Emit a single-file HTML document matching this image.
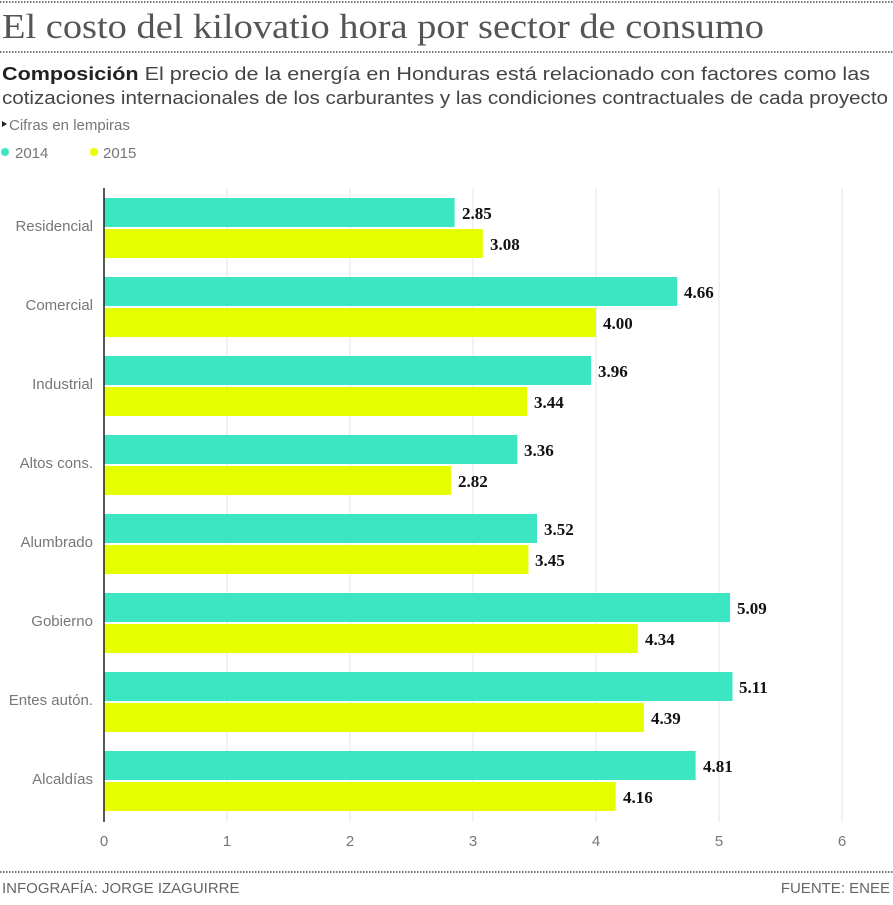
<!DOCTYPE html>
<html><head><meta charset="utf-8"><style>
body{margin:0;background:#fff;width:893px;height:900px;overflow:hidden;font-family:"Liberation Sans",sans-serif}
</style></head><body>
<svg width="893" height="900" xmlns="http://www.w3.org/2000/svg" font-family="Liberation Sans, sans-serif">
<line x1="0" y1="2" x2="893" y2="2" stroke="#777" stroke-width="2" stroke-dasharray="1.5,1.5"/>
<text x="2" y="38" font-family="Liberation Serif, serif" font-size="35" fill="#555" textLength="762" lengthAdjust="spacingAndGlyphs">El costo del kilovatio hora por sector de consumo</text>
<line x1="0" y1="52" x2="893" y2="52" stroke="#777" stroke-width="2" stroke-dasharray="1.5,1.5"/>
<text x="2" y="80" font-size="18" fill="#444" textLength="868" lengthAdjust="spacingAndGlyphs"><tspan font-weight="bold" fill="#222">Composición</tspan> El precio de la energía en Honduras está relacionado con factores como las</text>
<text x="2" y="104" font-size="18" fill="#444" textLength="886" lengthAdjust="spacingAndGlyphs">cotizaciones internacionales de los carburantes y las condiciones contractuales de cada proyecto</text>
<polygon points="2,121 7,124 2,127" fill="#222"/>
<text x="9" y="130" font-size="15" fill="#777">Cifras en lempiras</text>
<circle cx="5" cy="152" r="4" fill="#3de6c3"/><text x="15" y="158" font-size="15" fill="#777">2014</text>
<circle cx="94" cy="152" r="4" fill="#e6ff00"/><text x="103" y="158" font-size="15" fill="#777">2015</text>
<g stroke="#e4e4e4" stroke-width="1">
<line x1="227" y1="188" x2="227" y2="822"/><line x1="350" y1="188" x2="350" y2="822"/><line x1="473" y1="188" x2="473" y2="822"/><line x1="596" y1="188" x2="596" y2="822"/><line x1="719" y1="188" x2="719" y2="822"/><line x1="842" y1="188" x2="842" y2="822"/>
</g>
<g font-size="15" fill="#777" text-anchor="middle">
<text x="104" y="846">0</text><text x="227" y="846">1</text><text x="350" y="846">2</text><text x="473" y="846">3</text><text x="596" y="846">4</text><text x="719" y="846">5</text><text x="842" y="846">6</text>
</g>
<g fill="#3de6c3">
<rect x="104" y="198" width="350.6" height="29"/>
<rect x="104" y="277" width="573.2" height="29"/>
<rect x="104" y="356" width="487.1" height="29"/>
<rect x="104" y="435" width="413.3" height="29"/>
<rect x="104" y="514" width="433" height="29"/>
<rect x="104" y="593" width="626.1" height="29"/>
<rect x="104" y="672" width="628.5" height="29"/>
<rect x="104" y="751" width="591.6" height="29"/>
</g>
<g fill="#e6ff00">
<rect x="104" y="229" width="378.8" height="29"/>
<rect x="104" y="308" width="492" height="29"/>
<rect x="104" y="387" width="423.1" height="29"/>
<rect x="104" y="466" width="346.9" height="29"/>
<rect x="104" y="545" width="424.4" height="29"/>
<rect x="104" y="624" width="533.8" height="29"/>
<rect x="104" y="703" width="540" height="29"/>
<rect x="104" y="782" width="511.7" height="29"/>
</g>
<g font-family="Liberation Serif, serif" font-weight="bold" font-size="17" fill="#111">
<text x="462" y="219">2.85</text><text x="490" y="250">3.08</text>
<text x="684" y="298">4.66</text><text x="603" y="329">4.00</text>
<text x="598" y="377">3.96</text><text x="534" y="408">3.44</text>
<text x="524" y="456">3.36</text><text x="458" y="487">2.82</text>
<text x="544" y="535">3.52</text><text x="535" y="566">3.45</text>
<text x="737" y="614">5.09</text><text x="645" y="645">4.34</text>
<text x="739" y="693">5.11</text><text x="651" y="724">4.39</text>
<text x="703" y="772">4.81</text><text x="623" y="803">4.16</text>
</g>
<g font-size="15" fill="#777" text-anchor="end">
<text x="93" y="231">Residencial</text>
<text x="93" y="310">Comercial</text>
<text x="93" y="389">Industrial</text>
<text x="93" y="468">Altos cons.</text>
<text x="93" y="547">Alumbrado</text>
<text x="93" y="626">Gobierno</text>
<text x="93" y="705">Entes autón.</text>
<text x="93" y="784">Alcaldías</text>
</g>
<line x1="104" y1="188" x2="104" y2="822" stroke="#222" stroke-width="1.5"/>
<line x1="0" y1="872" x2="893" y2="872" stroke="#777" stroke-width="2" stroke-dasharray="1.5,1.5"/>
<text x="2" y="893" font-size="15" fill="#666">INFOGRAFÍA: JORGE IZAGUIRRE</text>
<text x="890" y="893" font-size="15" fill="#666" text-anchor="end">FUENTE: ENEE</text>
</svg>
</body></html>
